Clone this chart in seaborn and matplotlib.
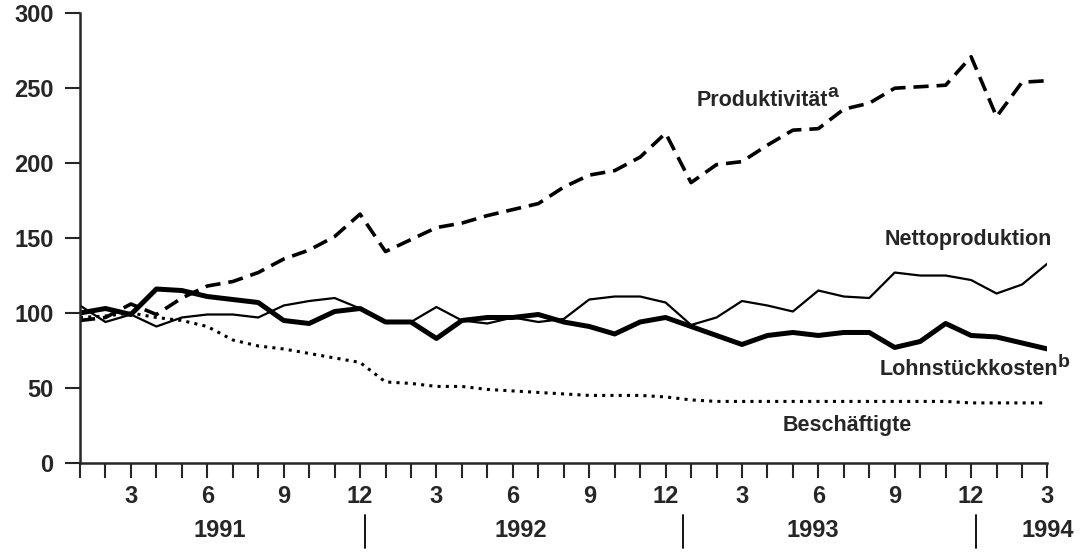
import numpy as np
import pandas as pd
import matplotlib
matplotlib.use("Agg")
import matplotlib.pyplot as plt
import seaborn as sns

# months Jan 1991 .. Mar 1994 (index 0..38)
months = list(range(39))
month_labels = ["3", "6", "9", "12", "3", "6", "9", "12", "3", "6", "9", "12", "3"]
years = ["1991", "1992", "1993", "1994"]

produktivitaet = [95, 97, 106, 99, 110, 118, 121, 127, 136, 142, 151, 166, 141,
                  149, 157, 160, 165, 169, 173, 184, 192, 195, 204, 220, 187, 199,
                  201, 212, 222, 223, 236, 240, 250, 251, 252, 271, 231, 254, 255]
nettoproduktion = [105, 94, 99, 91, 97, 99, 99, 97, 105, 108, 110, 103, 94,
                   94, 104, 95, 93, 97, 94, 96, 109, 111, 111, 107, 92, 97,
                   108, 105, 101, 115, 111, 110, 127, 125, 125, 122, 113, 119, 133]
lohnstueckkosten = [100, 103, 99, 116, 115, 111, 109, 107, 95, 93, 101, 103, 94,
                    94, 83, 95, 97, 97, 99, 94, 91, 86, 94, 97, 91, 85,
                    79, 85, 87, 85, 87, 87, 77, 81, 93, 85, 84, 80, 76]
beschaeftigte = [97, 98, 100, 97, 95, 91, 82, 78, 76, 73, 70, 67, 54,
                 53, 51, 51, 49, 48, 47, 46, 45, 45, 45, 44, 42, 41,
                 41, 41, 41, 41, 41, 41, 41, 41, 41, 40, 40, 40, 40]

df = pd.DataFrame({
    "Monat": months,
    "Produktivität": produktivitaet,
    "Nettoproduktion": nettoproduktion,
    "Lohnstückkosten": lohnstueckkosten,
    "Beschäftigte": beschaeftigte,
})

sns.set_style("ticks")
plt.rcParams["font.family"] = ["Liberation Sans", "DejaVu Sans"]

fig = plt.figure(figsize=(10.81, 5.53), dpi=100)
ax = fig.add_axes([0.074, 0.163, 0.895, 0.813])

sns.lineplot(data=df, x="Monat", y="Produktivität", ax=ax, color="black",
             lw=2.6).lines[-1].set_dashes((4.2, 2.2))
sns.lineplot(data=df, x="Monat", y="Nettoproduktion", ax=ax, color="black", lw=1.6)
sns.lineplot(data=df, x="Monat", y="Lohnstückkosten", ax=ax, color="black", lw=3.6)
sns.lineplot(data=df, x="Monat", y="Beschäftigte", ax=ax, color="black",
             lw=2.2).lines[-1].set_dashes((1.0, 1.7))

ax.set_xlim(0, 38)
ax.set_ylim(0, 300)
ax.set_xlabel("")
ax.set_ylabel("")
sns.despine(ax=ax)
for s in ["left", "bottom"]:
    ax.spines[s].set_linewidth(1.8)

ax.set_yticks(range(0, 301, 50))
ax.tick_params(axis="y", direction="out", length=11, width=1.5, labelsize=17, pad=8)
ax.set_xticks(range(2, 39, 3))
ax.set_xticklabels(month_labels)
ax.set_xticks(months, minor=True)
ax.tick_params(axis="x", which="both", direction="out", length=11, width=1.5,
               labelsize=17, pad=5)
for lab in ax.get_xticklabels() + ax.get_yticklabels():
    lab.set_fontweight("bold")

# year labels and separators below the axis
trans = ax.get_xaxis_transform()
for x, yr in zip([5.5, 17.3, 28.8, 38.0], years):
    ax.text(x, -0.15, yr, transform=trans, ha="center", va="center",
            fontsize=17, fontweight="bold")
for x in [11.2, 23.7, 35.2]:
    ax.plot([x, x], [-0.115, -0.19], transform=trans, color="black", lw=1.3,
            clip_on=False)

# series labels, footnote letters as separate superscripts
lab_kw = dict(fontsize=15.5, fontweight="bold", va="center")
t = ax.text(24.2, 242, "Produktivität", **lab_kw)
ax.annotate("a", xy=(1, 0.45), xycoords=t, va="bottom", ha="left",
            fontsize=14, fontweight="bold")
ax.text(31.6, 149, "Nettoproduktion", **lab_kw)
t = ax.text(31.4, 62, "Lohnstückkosten", **lab_kw)
ax.annotate("b", xy=(1, 0.45), xycoords=t, va="bottom", ha="left",
            fontsize=14, fontweight="bold")
ax.text(27.6, 25, "Beschäftigte", **lab_kw)

fig.savefig("out.png", dpi=100)
